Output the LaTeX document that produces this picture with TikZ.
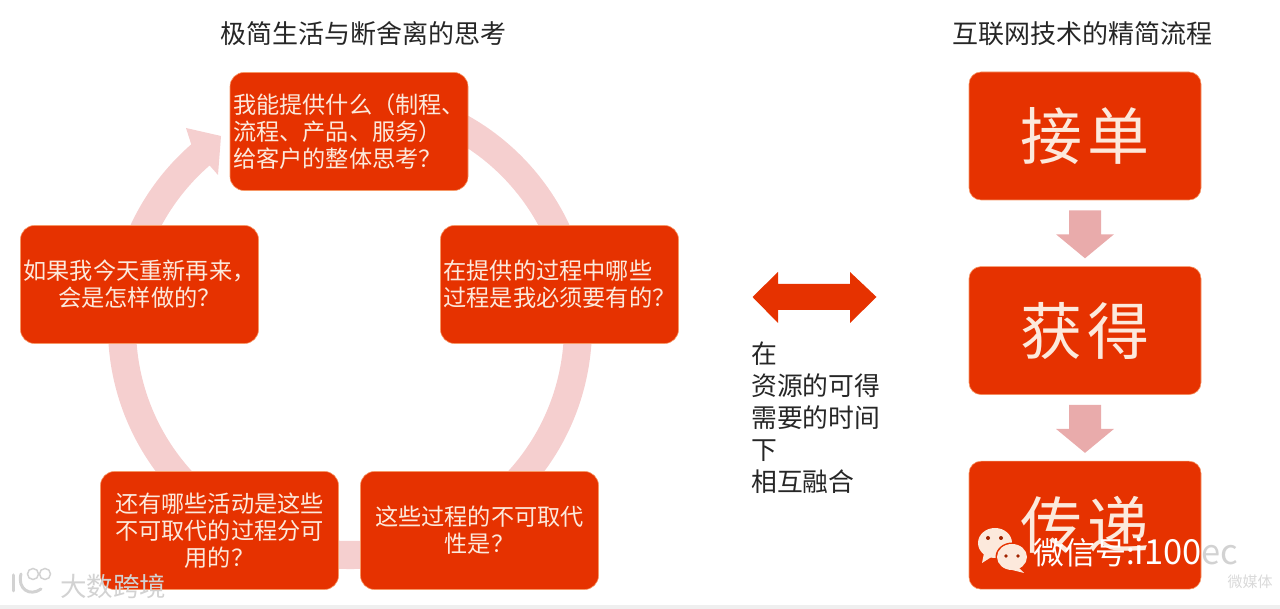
\documentclass[tikz,border=0pt]{standalone}
\usepackage{fontspec}
\setmainfont{Noto Sans CJK SC}
\usetikzlibrary{shapes,arrows,positioning,calc}
\definecolor{boxred}{HTML}{E63200}
\definecolor{ringpink}{HTML}{F5CFCF}
\definecolor{arrpink}{HTML}{E9ABAB}
\definecolor{boxtext}{HTML}{FCE9DC}
\definecolor{markgray}{HTML}{D2D2D2}
\definecolor{bandgray}{HTML}{EFEFEF}

\begin{document}
\begin{tikzpicture}[
  x=1pt, y=1pt,
  node distance = 66pt and 0pt,
  box/.style    = {fill=boxred, draw=boxred!60!orange!60!white, line width=0.6pt,
                   rounded corners=14pt, minimum width=238pt, minimum height=118pt,
                   inner sep=0pt, text=boxtext,
                   font=\fontsize{23.2}{27}\selectfont},
  bigbox/.style = {box, rounded corners=12pt, minimum width=232pt, minimum height=128pt,
                   font=\fontsize{62}{70}\selectfont},
  title/.style  = {font=\fontsize{26}{30}\selectfont, text=black!85},
  side/.style   = {font=\fontsize{25.8}{32}\selectfont, text=black!85, align=left, inner sep=0pt},
  downarr/.style = {fill=arrpink, draw=none},
]
\useasboundingbox (0,0) rectangle (1280,609);
\fill[bandgray] (0,0) rectangle (1280,4);

% ring behind the five boxes
\coordinate (ringc) at (350,282);
\fill[ringpink] ($(ringc)+(80:242)$) arc[start angle=80, end angle=-229, radius=242]
  -- (186,481) -- (221,473) -- (218,434)
  -- ($(ringc)+(131:214)$) arc[start angle=-229, end angle=80, radius=214] -- cycle;

\node[title] (ltitle) at (363,575) {极简生活与断舍离的思考};
\node[title] (rtitle) at (1082,575) {互联网技术的精简流程};

\node[box, align=left] (ask) at (349,477.5)
     {我能提供什么（制程、\\流程、产品、服务）\\给客户的整体思考？};
\node[box, align=left] (must) at (559.5,324.5)
     {在提供的过程中哪些\\过程是我必须要有的？};
\node[box, align=center] (irrep) at (479.5,78.5)
     {这些过程的不可取代\\性是？};
\node[box, align=center] (other) at (219.5,78.5)
     {还有哪些活动是这些\\不可取代的过程分可\\用的？};
\node[box, align=center] (again) at (139.5,324.5)
     {如果我今天重新再来，\\会是怎样做的？};

\node[bigbox] (order) at (1085,473) {接\hspace{6pt}单};
\node[bigbox, below=of order] (gain) {获\hspace{6pt}得};
\node[bigbox, below=of gain] (send) {传\hspace{6pt}递};

% arrows between the flow boxes
\foreach \from in {order, gain}
  \path[downarr]
    ($(\from.south)+(-16,-10)$) -- ++(32,0) -- ++(0,-24) -- ++(13,0)
    -- ++(-29,-24) -- ++(-29,24) -- ++(13,0) -- cycle;

\fill[boxred] (752.5,312) -- (778,337) -- (778,325) -- (850,325) -- (850,337) -- (876.5,312)
  -- (850,286) -- (850,299) -- (778,299) -- (778,286) -- cycle;

\node[side, anchor=north west] (rule) at (751,267)
     {在\\资源的可得\\需要的时间\\下\\相互融合};

% marks over the picture
\fill[boxtext] (995,66) ellipse[x radius=17, y radius=15];
\fill[boxtext] (984,56) -- (982,46) -- (993,53) -- cycle;
\fill[boxred] (1012,52) ellipse[x radius=16.5, y radius=14.5];
\fill[boxtext] (1012,52) ellipse[x radius=15, y radius=13];
\fill[boxtext] (1018,42) -- (1024,36) -- (1012,39) -- cycle;
\foreach \ex/\ey in {988/71, 1001/71} \fill[boxred!70!black] (\ex,\ey) circle (2);
\foreach \ex/\ey in {1006/53, 1018/53} \fill[boxred!70!black] (\ex,\ey) circle (1.8);
\node[font=\fontsize{31}{34}\selectfont, text=white, anchor=west, inner sep=0pt] (wechat) at (1033,57)
     {微信号:{\fontsize{34.5}{34}\selectfont i100\color{markgray}ec}};

\node[font=\fontsize{26.5}{30}\selectfont, text=markgray, anchor=west, inner sep=0pt] (brand) at (60,23)
     {大数跨境};
\draw[markgray, line width=3pt, line cap=round] (13,34) -- (13,18);
\draw[markgray, line width=3pt, line cap=round] (21,35) .. controls (17,20) and (30,12) .. (41,20);
\draw[markgray, line width=1.5pt] (33,35) circle (5.5) (45,35) circle (5.5);

\node[font=\fontsize{15}{16}\selectfont, text=black!15, inner sep=0pt] (weimedia) at (1250,27) {微媒体};
\end{tikzpicture}
\end{document}
